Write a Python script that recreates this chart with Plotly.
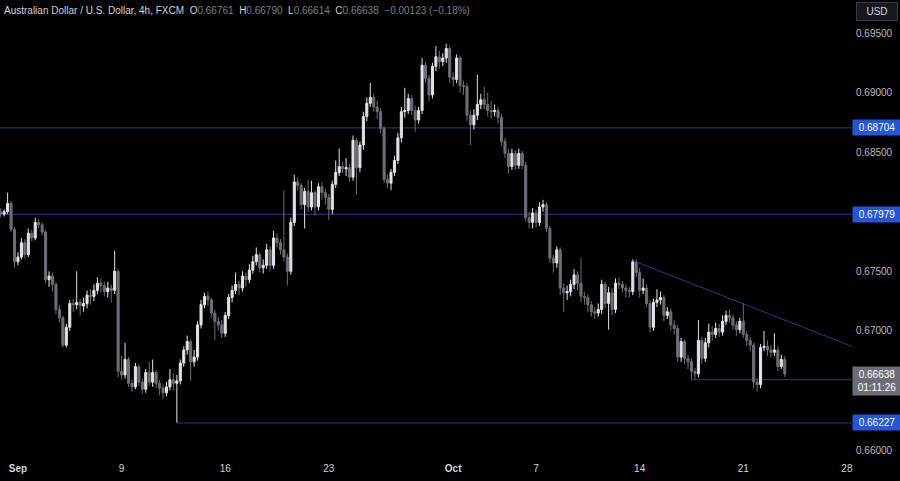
import plotly.graph_objects as go

# ---------------- data (AUD/USD 4h, FXCM) ----------------
first_open = 0.6800
closes = [
    0.6798, 0.6800, 0.6807, 0.6785, 0.6758, 0.6762, 0.6774, 0.6764, 0.6782, 0.6778,
    0.6791, 0.6789, 0.6783, 0.6743, 0.6746, 0.6739, 0.6718, 0.6711, 0.6688, 0.6703,
    0.6723, 0.6722, 0.6724, 0.6721, 0.6723, 0.6730, 0.6729, 0.6734, 0.6740, 0.6738,
    0.6733, 0.6736, 0.6734, 0.6750, 0.6666, 0.6663, 0.6676, 0.6656, 0.6653, 0.6670,
    0.6657, 0.6651, 0.6665, 0.6657, 0.6665, 0.6656, 0.6652, 0.6648, 0.6653, 0.6659,
    0.6656, 0.6658, 0.6673, 0.6684, 0.6691, 0.6674, 0.6678, 0.6705, 0.6722, 0.6729,
    0.6726, 0.6715, 0.6708, 0.6705, 0.6698, 0.6713, 0.6728, 0.6734, 0.6739, 0.6736,
    0.6746, 0.6743, 0.6751, 0.6758, 0.6764, 0.6753, 0.6755, 0.6768, 0.6755, 0.6778,
    0.6774, 0.6768, 0.6762, 0.6750, 0.6791, 0.6825, 0.6822, 0.6806, 0.6817, 0.6804,
    0.6816, 0.6804, 0.6821, 0.6816, 0.6812, 0.6802, 0.6823, 0.6833, 0.6838, 0.6836,
    0.6837, 0.6829, 0.6860, 0.6837, 0.6856, 0.6880, 0.6891, 0.6896, 0.6888, 0.6884,
    0.6870, 0.6827, 0.6824, 0.6833, 0.6843, 0.6862, 0.6884, 0.6885, 0.6895, 0.6885,
    0.6877, 0.6885, 0.6923, 0.6912, 0.6898, 0.6922, 0.6930, 0.6926, 0.6929, 0.6937,
    0.6913, 0.6911, 0.6929, 0.6906, 0.6905, 0.6881, 0.6873, 0.6881, 0.6890, 0.6894,
    0.6890, 0.6885, 0.6884, 0.6885, 0.6879, 0.6859, 0.6849, 0.6838, 0.6849, 0.6839,
    0.6849, 0.6839, 0.6795, 0.6791, 0.6799, 0.6791, 0.6804, 0.6806, 0.6786, 0.6761,
    0.6757, 0.6768, 0.6736, 0.6732, 0.6733, 0.6739, 0.6747, 0.6740, 0.6729, 0.6728,
    0.6722, 0.6716, 0.6715, 0.6718, 0.6739, 0.6723, 0.6732, 0.6718, 0.6740, 0.6739,
    0.6736, 0.6734, 0.6733, 0.6758, 0.6749, 0.6734, 0.6736, 0.6723, 0.6703, 0.6724,
    0.6726, 0.6728, 0.6713, 0.6716, 0.6705, 0.6702, 0.6678, 0.6691, 0.6677, 0.6674,
    0.6666, 0.6664, 0.6692, 0.6677, 0.6690, 0.6699, 0.6697, 0.6702, 0.6699, 0.6708,
    0.6713, 0.6711, 0.6705, 0.6701, 0.6708, 0.6697, 0.6692, 0.6688, 0.6657, 0.6655,
    0.6686, 0.6687, 0.6684, 0.6682, 0.6684, 0.6670, 0.66761, 0.66638,
]
highs = [
    0.6803, 0.6802, 0.6816, 0.6809, 0.6787, 0.6766, 0.6778, 0.6777, 0.6786, 0.6785,
    0.6795, 0.6794, 0.6791, 0.6785, 0.6750, 0.6749, 0.6741, 0.6722, 0.6713, 0.6706,
    0.6726, 0.6727, 0.6750, 0.6727, 0.6728, 0.6734, 0.6735, 0.6739, 0.6745, 0.6744,
    0.6741, 0.6741, 0.6739, 0.6767, 0.6752, 0.6679, 0.6690, 0.6678, 0.6659, 0.6673,
    0.6672, 0.6660, 0.6668, 0.6674, 0.6676, 0.6667, 0.6659, 0.6655, 0.6657, 0.6668,
    0.6664, 0.6663, 0.6676, 0.6687, 0.6696, 0.6693, 0.6684, 0.6708, 0.6726, 0.6732,
    0.6733, 0.6728, 0.6718, 0.6712, 0.6709, 0.6716, 0.6731, 0.6738, 0.6749, 0.6742,
    0.6750, 0.6749, 0.6756, 0.6763, 0.6770, 0.6766, 0.6760, 0.6773, 0.6771, 0.6784,
    0.6782, 0.6777, 0.6818, 0.6765, 0.6795, 0.6831, 0.6829, 0.6824, 0.6820, 0.6827,
    0.6826, 0.6818, 0.6824, 0.6825, 0.6819, 0.6815, 0.6826, 0.6843, 0.6853, 0.6842,
    0.6845, 0.6840, 0.6864, 0.6862, 0.6859, 0.6884, 0.6896, 0.6908, 0.6899, 0.6893,
    0.6887, 0.6872, 0.6831, 0.6836, 0.6847, 0.6866, 0.6888, 0.6904, 0.6899, 0.6898,
    0.6889, 0.6888, 0.6929, 0.6926, 0.6915, 0.6925, 0.6939, 0.6935, 0.6933, 0.6941,
    0.6939, 0.6917, 0.6932, 0.6931, 0.6910, 0.6908, 0.6885, 0.6886, 0.6915, 0.6899,
    0.6905, 0.6900, 0.6893, 0.6890, 0.6888, 0.6882, 0.6862, 0.6853, 0.6853, 0.6852,
    0.6853, 0.6851, 0.6842, 0.6800, 0.6803, 0.6802, 0.6808, 0.6810, 0.6808, 0.6788,
    0.6764, 0.6771, 0.6770, 0.6740, 0.6738, 0.6743, 0.6752, 0.6750, 0.6761, 0.6733,
    0.6731, 0.6725, 0.6720, 0.6723, 0.6743, 0.6741, 0.6737, 0.6736, 0.6744, 0.6745,
    0.6742, 0.6739, 0.6737, 0.6760, 0.6760, 0.6753, 0.6744, 0.6739, 0.6726, 0.6727,
    0.6735, 0.6733, 0.6730, 0.6720, 0.6719, 0.6709, 0.6705, 0.6694, 0.6693, 0.6680,
    0.6677, 0.6669, 0.6709, 0.6695, 0.6694, 0.6706, 0.6704, 0.6707, 0.6706, 0.6713,
    0.6717, 0.6718, 0.6714, 0.6708, 0.6711, 0.6723, 0.6700, 0.6695, 0.6690, 0.6660,
    0.6689, 0.6700, 0.6692, 0.6688, 0.6698, 0.6687, 0.6680, 0.66790,
]
lows = [
    0.6795, 0.6796, 0.6798, 0.6783, 0.6753, 0.6755, 0.6760, 0.6761, 0.6762, 0.6775,
    0.6776, 0.6786, 0.6780, 0.6740, 0.6737, 0.6733, 0.6714, 0.6707, 0.6686, 0.6686,
    0.6700, 0.6716, 0.6718, 0.6713, 0.6716, 0.6719, 0.6722, 0.6725, 0.6731, 0.6732,
    0.6729, 0.6728, 0.6724, 0.6731, 0.6661, 0.6659, 0.6660, 0.6653, 0.6649, 0.6651,
    0.6654, 0.6647, 0.6648, 0.6654, 0.6653, 0.6652, 0.6646, 0.6643, 0.6645, 0.6650,
    0.6650, 0.6623, 0.6655, 0.6670, 0.6680, 0.6658, 0.6670, 0.6675, 0.6702, 0.6719,
    0.6721, 0.6711, 0.6692, 0.6700, 0.6694, 0.6695, 0.6710, 0.6724, 0.6731, 0.6730,
    0.6733, 0.6737, 0.6740, 0.6748, 0.6755, 0.6749, 0.6748, 0.6752, 0.6750, 0.6752,
    0.6770, 0.6764, 0.6758, 0.6738, 0.6747, 0.6788, 0.6818, 0.6802, 0.6786, 0.6800,
    0.6801, 0.6797, 0.6801, 0.6810, 0.6806, 0.6793, 0.6798, 0.6820, 0.6830, 0.6832,
    0.6830, 0.6825, 0.6826, 0.6814, 0.6833, 0.6852, 0.6876, 0.6888, 0.6884, 0.6878,
    0.6866, 0.6824, 0.6820, 0.6818, 0.6830, 0.6840, 0.6858, 0.6879, 0.6882, 0.6881,
    0.6867, 0.6874, 0.6882, 0.6908, 0.6893, 0.6895, 0.6918, 0.6920, 0.6922, 0.6925,
    0.6908, 0.6905, 0.6908, 0.6900, 0.6898, 0.6876, 0.6856, 0.6869, 0.6877, 0.6886,
    0.6886, 0.6880, 0.6878, 0.6880, 0.6874, 0.6855, 0.6845, 0.6832, 0.6835, 0.6835,
    0.6836, 0.6836, 0.6792, 0.6786, 0.6786, 0.6787, 0.6788, 0.6800, 0.6783, 0.6757,
    0.6749, 0.6753, 0.6730, 0.6716, 0.6726, 0.6729, 0.6735, 0.6734, 0.6724, 0.6722,
    0.6716, 0.6712, 0.6710, 0.6712, 0.6714, 0.6719, 0.6701, 0.6713, 0.6715, 0.6735,
    0.6732, 0.6728, 0.6728, 0.6730, 0.6745, 0.6728, 0.6731, 0.6720, 0.6699, 0.6700,
    0.6720, 0.6722, 0.6708, 0.6710, 0.6700, 0.6697, 0.6674, 0.6674, 0.6672, 0.6668,
    0.6659, 0.6659, 0.6661, 0.6672, 0.6674, 0.6686, 0.6692, 0.6694, 0.6695, 0.6696,
    0.6705, 0.6707, 0.6701, 0.6696, 0.6698, 0.6694, 0.6687, 0.6683, 0.6652, 0.6649,
    0.6652, 0.6683, 0.6679, 0.6678, 0.6679, 0.6666, 0.6668, 0.66614,
]
opens = [first_open] + closes[:-1]
bars = list(range(len(closes)))

# time axis labels (bar index of first bar of each labelled day)
tick_bars = [5, 35, 65, 95, 131, 155, 185, 215, 245]
tick_text = ["<b>Sep</b>", "9", "16", "23", "<b>Oct</b>", "7", "14", "21", "28"]

# price axis labels
price_ticks = [0.660, 0.670, 0.675, 0.685, 0.690, 0.695]

# drawn levels: price, first bar (None = full width)
level_prices = [0.68704, 0.67979, 0.66227]
level_start = [None, None, 51]
support_price = 0.6659
support_start = 200
trend_bars = [183, 246.5]
trend_prices = [0.6759, 0.6687]

countdown = "01:11:26"

# ---------------- figure ----------------
BG = "#000000"
UP = "#e4e4e8"
DOWN = "#6c6f78"
LINE = "#2c3890"
BLUE = "#2356d8"
FONT = "Liberation Sans"

fig = go.Figure()
fig.add_trace(go.Candlestick(
    x=bars, open=opens, high=highs, low=lows, close=closes,
    increasing=dict(line=dict(color=UP, width=1), fillcolor=UP),
    decreasing=dict(line=dict(color=DOWN, width=1), fillcolor=DOWN),
    whiskerwidth=0, hoverinfo="skip", showlegend=False,
))

fig.add_trace(go.Scatter(x=trend_bars, y=trend_prices, mode="lines",
                         line=dict(color=LINE, width=1), hoverinfo="skip",
                         showlegend=False))

shapes = []
for p, s in zip(level_prices, level_start):
    shapes.append(dict(type="line", xref="x", yref="y",
                       x0=(-5 if s is None else s), x1=300, y0=p, y1=p,
                       line=dict(color=LINE, width=1), layer="below"))
shapes.append(dict(type="line", xref="x", yref="y", x0=support_start, x1=300,
                   y0=support_price, y1=support_price,
                   line=dict(color=LINE, width=1), layer="below"))

annotations = []
o, h, l, c = opens[-1], highs[-1], lows[-1], closes[-1]
chg = c - o
pct = chg / o * 100
W = "#d1d4dc"
G = "#7c7f88"
hdr = (f'<span style="color:{W}">Australian Dollar / U.S. Dollar, 4h, FXCM</span>'
       f'&nbsp;&nbsp;<span style="color:{W}">O</span><span style="color:{G}">{o:.5f}</span>'
       f'&nbsp;&nbsp;<span style="color:{W}">H</span><span style="color:{G}">{h:.5f}</span>'
       f'&nbsp;&nbsp;<span style="color:{W}">L</span><span style="color:{G}">{l:.5f}</span>'
       f'&nbsp;&nbsp;<span style="color:{W}">C</span><span style="color:{G}">{c:.5f}</span>'
       f'&nbsp;&nbsp;<span style="color:{G}">{chg:+.5f} ({pct:+.2f}%)</span>').replace("-", "\u2212")
annotations.append(dict(xref="paper", yref="paper", x=0, y=1, xanchor="left",
                        yanchor="top", xshift=2, yshift=-3, text=hdr, showarrow=False,
                        font=dict(family=FONT, size=10, color=W), align="left"))

annotations.append(dict(xref="paper", yref="paper", x=1, y=1, xanchor="left",
                        yanchor="top", xshift=4, yshift=-2, text="USD", showarrow=False,
                        font=dict(family=FONT, size=10, color=W),
                        bgcolor="#15181f", bordercolor="#3a3d46", borderwidth=1,
                        borderpad=3, width=34))

for p in level_prices:
    annotations.append(dict(xref="paper", yref="y", x=1, y=p, xanchor="left",
                            yanchor="middle", xshift=0, text=f"{p:.5f}", showarrow=False,
                            font=dict(family=FONT, size=10, color="#ffffff"),
                            bgcolor=BLUE, borderpad=2, width=44))

annotations.append(dict(xref="paper", yref="y", x=1, y=c, xanchor="left",
                        yanchor="top", yshift=8, text=f"{c:.5f}<br>{countdown}",
                        showarrow=False,
                        font=dict(family=FONT, size=10, color="#ffffff"),
                        bgcolor="#6b6e76", borderpad=2, width=44))

fig.update_layout(
    width=900, height=481,
    margin=dict(l=0, r=48, t=0, b=26),
    paper_bgcolor=BG, plot_bgcolor=BG,
    shapes=shapes, annotations=annotations,
    showlegend=False,
    boxgap=0.15,
    xaxis=dict(range=[-0.2, 246.47], showgrid=False, zeroline=False,
               tickmode="array", tickvals=tick_bars, ticktext=tick_text,
               tickfont=dict(family=FONT, size=10, color=W),
               ticks="", showline=False, rangeslider=dict(visible=False),
               ticklabelstandoff=6, fixedrange=True),
    yaxis=dict(range=[0.659583, 0.697771], side="right", showgrid=False,
               zeroline=False, tickmode="array", tickvals=price_ticks,
               tickformat=".5f", ticks="", showline=False,
               tickfont=dict(family=FONT, size=10, color="#b8bbc3"),
               ticklabelstandoff=3, fixedrange=True),
)

fig.write_html(
    "out.html",
    config={"displayModeBar": False},
    post_script="document.body.style.margin='0';document.body.style.background='#000';",
)
